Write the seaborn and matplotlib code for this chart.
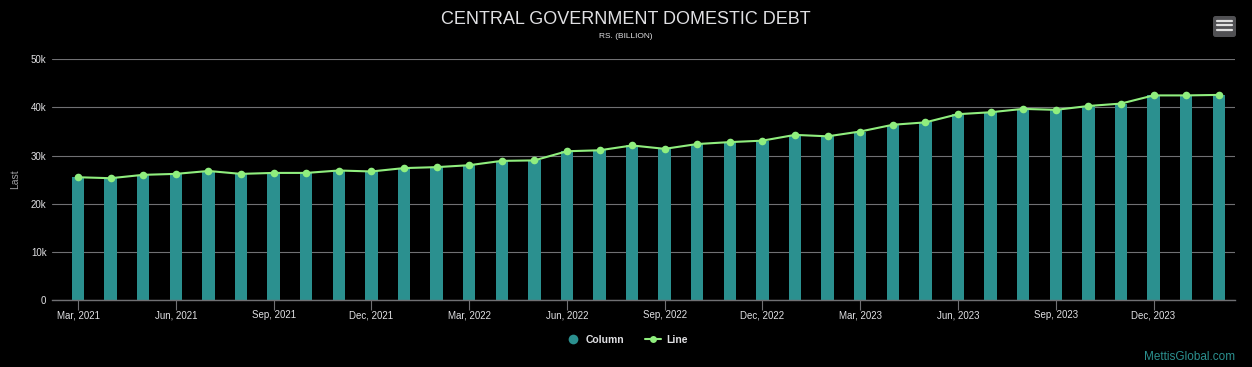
"""
Central government domestic debt chart (dark theme, columns + line).
"""

import numpy as np
import pandas as pd
import matplotlib.pyplot as plt
import seaborn as sns
from matplotlib.lines import Line2D
from matplotlib.patches import FancyBboxPatch
from matplotlib.ticker import FuncFormatter

# monthly data, Rs. billion
months = pd.date_range("2021-03-01", periods=36, freq="MS").strftime("%b, %Y").tolist()
debt = [
    25500, 25300, 26000, 26200, 26800, 26200, 26400, 26400, 26900, 26700,
    27400, 27600, 28000, 28900, 29000, 30900, 31100, 32100, 31400, 32400,
    32800, 33100, 34300, 34000, 35000, 36400, 36900, 38600, 39000, 39700,
    39500, 40300, 40800, 42500, 42500, 42600,
]
y_ticks = [0, 10000, 20000, 30000, 40000, 50000]

BG = "#000000"
BAR = "#2b908f"
LINE = "#90ee7e"
GRID = "#707073"
TEXT = "#E0E0E3"

W, H = 1252, 367

sns.set_theme(style="dark")
plt.rcParams["font.family"] = ["Liberation Sans", "DejaVu Sans"]

df = pd.DataFrame({"month": months, "debt": debt})

fig = plt.figure(figsize=(W / 100, H / 100), dpi=100, facecolor=BG)
ax = fig.add_axes([52 / W, 67 / H, (1235 - 52) / W, (300 - 59.3) / H])
ax.set_facecolor(BG)

sns.barplot(data=df, x="month", y="debt", color=BAR, saturation=1,
            width=0.38, ax=ax, zorder=2, edgecolor="none", linewidth=0)
sns.pointplot(data=df, x="month", y="debt", color=LINE, markers="o",
              errorbar=None, markersize=5.5, linewidth=1.5,
              markeredgecolor=LINE, markeredgewidth=0, ax=ax)
for line in ax.lines:
    line.set_zorder(3)

ax.set_xlim(-0.8, 35.5)
ax.set_ylim(0, 50000)
ax.set_yticks(y_ticks)
ax.yaxis.set_major_formatter(FuncFormatter(lambda v, _: "0" if v == 0 else f"{int(v / 1000)}k"))
ax.set_xticks(range(0, len(months), 3))
ax.set_xticklabels(months[::3])

ax.set_axisbelow(True)
ax.yaxis.grid(True, color=GRID, lw=0.8)
ax.xaxis.grid(False)
for side in ["top", "right", "left"]:
    ax.spines[side].set_visible(False)
ax.spines["bottom"].set_color(GRID)
ax.spines["bottom"].set_linewidth(1)

ax.tick_params(axis="x", bottom=True, length=7, width=0.8, color=GRID, pad=6,
               labelcolor=TEXT, labelsize=7)
for lbl in ax.get_xticklabels():
    lbl.set_verticalalignment("baseline")
ax.tick_params(axis="y", left=False, length=0, pad=4, labelcolor=TEXT, labelsize=7)
ax.set_xlabel("")
ax.set_ylabel("Last", color="#A0A0A3", fontsize=7.5)
ax.yaxis.set_label_coords((20 - 52) / (1235 - 52), 0.5)

# titles
fig.text(0.5, 1 - 20 / H, "CENTRAL GOVERNMENT DOMESTIC DEBT", ha="center",
         va="center", fontsize=13, color=TEXT)
fig.text(0.5, 1 - 37 / H, "RS. (BILLION)", ha="center", va="center",
         fontsize=6, color=TEXT)

# legend
handles = [
    Line2D([], [], marker="o", ls="none", color=BAR, markersize=7,
           markeredgewidth=0, label="Column"),
    Line2D([], [], marker="o", color=LINE, lw=1.5, markersize=5,
           markeredgewidth=0, label="Line"),
]
leg = fig.legend(handles=handles, loc="center", bbox_to_anchor=(0.5, 1 - 340 / H),
                 ncol=2, frameon=False, prop={"weight": "bold", "size": 7.5},
                 handlelength=1.5, columnspacing=2, handletextpad=0.5)
for t in leg.get_texts():
    t.set_color(TEXT)

# watermark
fig.text(1235 / W, 1 - 357 / H, "MettisGlobal.com", ha="right", va="center",
         fontsize=8.5, color=BAR)

# export menu icon
fig.patches.append(FancyBboxPatch(
    (1213 / W, 1 - 37 / H), 23 / W, 21 / H,
    boxstyle="round,pad=0,rounding_size=0.002", mutation_aspect=W / H,
    transform=fig.transFigure, facecolor="#505053", edgecolor="none"))
for yy in [20.7, 25.3, 30.0]:
    fig.lines.append(Line2D([1217 / W, 1232 / W], [1 - yy / H, 1 - yy / H],
                            transform=fig.transFigure, color="#E0E0E0", lw=1.6))

fig.savefig("out.png", dpi=100, facecolor=BG)
plt.close(fig)
